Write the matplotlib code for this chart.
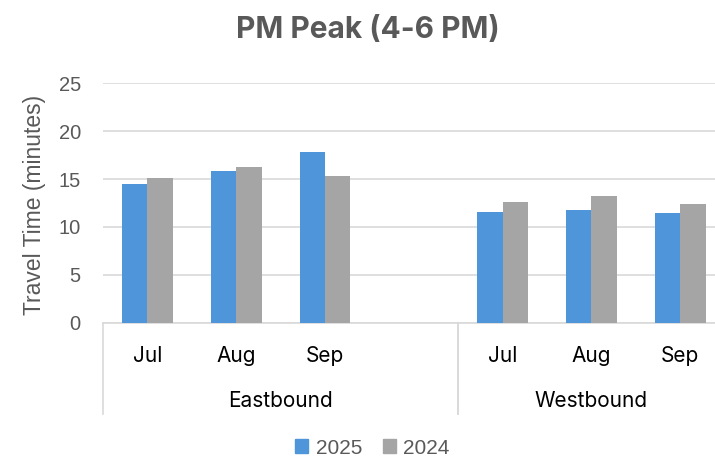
import numpy as np
import matplotlib
matplotlib.use("Agg")
import matplotlib.pyplot as plt
from matplotlib.patches import Patch
from matplotlib.lines import Line2D

# ---- data ----
title = "PM Peak (4-6 PM)"
ylabel = "Travel Time (minutes)"
cat_labels = ["Jul", "Aug", "Sep", "", "Jul", "Aug", "Sep"]
group_names = ["Eastbound", "Westbound"]
group_spans = [(0, 3), (4, 6)]  # category index ranges (inclusive)
series_names = ["2025", "2024"]
v2025 = [14.5, 15.8, 17.85, np.nan, 11.55, 11.8, 11.5]
v2024 = [15.15, 16.3, 15.35, np.nan, 12.6, 13.2, 12.35]
yticks = [0, 5, 10, 15, 20, 25]

# ---- style ----
c_blue = "#4E95D9"
c_gray = "#A5A5A5"
c_text = "#595959"
c_grid = "#D9D9D9"
cat_font = "Inter"
num_font = "Liberation Sans"

W, H = 715, 462
fig = plt.figure(figsize=(W / 100, H / 100), dpi=100)
left_px, right_px = 103, 724.6
base_px, top_px = 322.7, 83.3
ax_h = base_px - top_px
ax = fig.add_axes([left_px / W, (H - base_px) / H, (right_px - left_px) / W, ax_h / H])

x = np.arange(len(cat_labels))
bw = 0.285
ax.bar(x - bw / 2, v2025, width=bw, color=c_blue, zorder=3)
ax.bar(x + bw / 2, v2024, width=bw, color=c_gray, zorder=3)

ax.set_xlim(-0.5, len(cat_labels) - 0.5)
ax.set_ylim(0, 25)
ax.set_yticks(yticks)
ax.set_yticklabels([str(t) for t in yticks], fontsize=14.5, color=c_text, family=num_font)
ax.tick_params(axis="y", length=0, pad=16)
ax.set_xticks([])
ax.grid(axis="y", color=c_grid, lw=1.2, zorder=0)
for s in ["top", "right", "left"]:
    ax.spines[s].set_visible(False)
ax.spines["bottom"].set_color(c_grid)
ax.spines["bottom"].set_linewidth(1.2)

ax.set_ylabel(ylabel, fontsize=16.5, color=c_text, family=num_font)
ax.yaxis.set_label_coords(-(left_px - 46) / (right_px - left_px), 0.49)

trans = matplotlib.transforms.blended_transform_factory(ax.transData, ax.transAxes)
for i, lab in enumerate(cat_labels):
    if lab:
        ax.text(i, -(361.7 - base_px) / ax_h, lab, transform=trans, ha="center",
                va="baseline", fontsize=15, color="black", family=cat_font)
bottom_y = -(414 - base_px) / ax_h
for name, (a, b) in zip(group_names, group_spans):
    ax.text((a + b) / 2, -(406.7 - base_px) / ax_h, name, transform=trans, ha="center",
            va="baseline", fontsize=15, color="black", family=cat_font)
    for xe in (a - 0.5, b + 0.5):
        ax.add_line(Line2D([xe, xe], [0, bottom_y], transform=trans, color=c_grid,
                           lw=1.2, clip_on=False))

fig.text(368 / W, 1 - 38.3 / H, title, ha="center", va="baseline", fontsize=21.5,
         fontweight="bold", color=c_text, family=cat_font)

handles = [Patch(color=c_blue), Patch(color=c_gray)]
fig.legend(handles, series_names, loc="center", bbox_to_anchor=(372.5 / W, 1 - 448 / H),
           ncol=2, frameon=False, prop={"family": num_font, "size": 15},
           labelcolor=c_text, handlelength=0.62, handleheight=0.62, handletextpad=0.35,
           columnspacing=1.0, borderpad=0, borderaxespad=0)

fig.savefig("out.png", dpi=100)
